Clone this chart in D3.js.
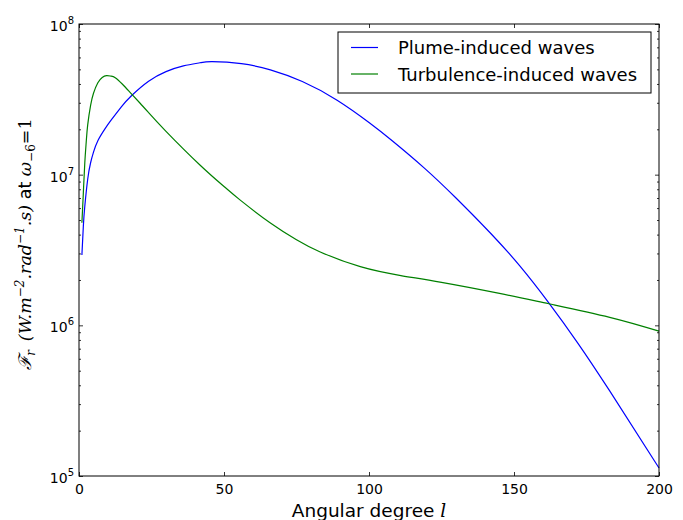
<!DOCTYPE html>
<html>
<head>
<meta charset="utf-8">
<script src="https://cdn.jsdelivr.net/npm/d3@7"></script>
<style>
  body { margin: 0; background: #fff; }
  text { font-family: "DejaVu Sans", sans-serif; fill: #000; }
  .math { font-family: "DejaVu Serif", serif; font-style: italic; }
  .rm { font-family: "DejaVu Serif", serif; }
</style>
</head>
<body>
<div id="here"></div>
<script>
// angular degree samples
const plumeL = [1, 1.5, 2, 3, 4, 5, 6.5, 9, 11, 14.6, 18, 24, 30, 36, 41.7, 46, 56, 66, 77, 89, 100, 108, 119, 130, 142, 152, 162, 172, 183, 200];
const plumeFlux = [2.93e6, 4.57e6, 6.17e6, 9.33e6, 1.20e7, 1.41e7, 1.68e7, 2.02e7, 2.29e7, 2.82e7, 3.33e7, 4.17e7, 4.83e7, 5.27e7, 5.53e7, 5.62e7, 5.45e7, 4.96e7, 4.15e7, 3.12e7, 2.22e7, 1.68e7, 1.11e7, 7.00e6, 4.07e6, 2.48e6, 1.41e6, 7.63e5, 3.67e5, 1.13e5];

const turbL = [1, 1.5, 2, 2.5, 3, 4, 5, 6.5, 8, 9.5, 11, 12.5, 15, 18, 21, 24, 30, 41.7, 50, 55.5, 66, 75, 83, 97, 111, 125, 145, 162, 183, 200];
const turbFlux = [4.79e6, 7.59e6, 1.20e7, 1.66e7, 2.14e7, 2.88e7, 3.47e7, 4.07e7, 4.42e7, 4.54e7, 4.51e7, 4.40e7, 3.98e7, 3.45e7, 2.99e7, 2.58e7, 1.94e7, 1.16e7, 8.35e6, 6.80e6, 4.78e6, 3.70e6, 3.08e6, 2.45e6, 2.14e6, 1.93e6, 1.63e6, 1.39e6, 1.13e6, 9.15e5];

const xTicks = [0, 50, 100, 150, 200];
const yTicks = [1e5, 1e6, 1e7, 1e8];
const seriesNames = ["Plume-induced waves", "Turbulence-induced waves"];
const seriesColors = ["#0000ff", "#008000"];

const width = 683;
const height = 520;
const margin = { top: 24, right: 24, bottom: 44, left: 79 };

const svg = d3.select("#here")
    .append("svg")
    .attr("width", width)
    .attr("height", height);

const xScale = d3.scaleLinear()
    .domain([0, 200])
    .range([margin.left, width - margin.right]);

const yScale = d3.scaleLog()
    .domain([1e5, 1e8])
    .range([height - margin.bottom, margin.top]);

// minor ticks 2..9 for every decade
const minorTicks = [];
yTicks.slice(0, -1).forEach(function(d){
    for (let k = 2; k <= 9; k++) minorTicks.push(d * k);
});

// axes, ticks pointing inwards like matplotlib classic
const bottomAxis = svg.append("g")
    .attr("transform", `translate(0, ${height - margin.bottom})`)
    .call(d3.axisBottom(xScale).tickValues(xTicks).tickSize(-4).tickPadding(8));

svg.append("g")
    .attr("transform", `translate(0, ${margin.top})`)
    .call(d3.axisTop(xScale).tickValues(xTicks).tickSize(-4).tickFormat(""));

svg.append("g")
    .attr("transform", `translate(${margin.left}, 0)`)
    .call(d3.axisLeft(yScale).tickValues(yTicks).tickSize(-4).tickFormat(""));

svg.append("g")
    .attr("transform", `translate(${width - margin.right}, 0)`)
    .call(d3.axisRight(yScale).tickValues(yTicks).tickSize(-4).tickFormat(""));

svg.append("g")
    .attr("transform", `translate(${margin.left}, 0)`)
    .call(d3.axisLeft(yScale).tickValues(minorTicks).tickSize(-2).tickFormat(""));

svg.append("g")
    .attr("transform", `translate(${width - margin.right}, 0)`)
    .call(d3.axisRight(yScale).tickValues(minorTicks).tickSize(-2).tickFormat(""));

svg.selectAll(".domain").remove();
svg.selectAll(".tick line").attr("stroke", "#000").attr("stroke-width", 0.8);

bottomAxis.selectAll(".tick text")
    .style("font-size", "14px")
    .style("font-family", "DejaVu Sans");

// y tick labels as 10 with superscript exponent
svg.append("g")
    .selectAll("text")
    .data(yTicks)
    .enter()
    .append("text")
    .attr("x", margin.left - 5)
    .attr("y", function(d){ return yScale(d) + 7; })
    .attr("text-anchor", "end")
    .style("font-size", "14px")
    .each(function(d){
        const t = d3.select(this);
        t.append("tspan").text("10");
        t.append("tspan")
            .attr("dy", -7)
            .style("font-size", "10px")
            .text(Math.round(Math.log10(d)));
    });

// curves
const line = d3.line()
    .x(function(d){ return xScale(d[0]); })
    .y(function(d){ return yScale(d[1]); })
    .curve(d3.curveNatural);

const plumeData = d3.zip(plumeL, plumeFlux);
const turbData = d3.zip(turbL, turbFlux);

svg.append("path")
    .datum(plumeData)
    .attr("fill", "none")
    .attr("stroke", seriesColors[0])
    .attr("stroke-width", 1.2)
    .attr("d", line);

svg.append("path")
    .datum(turbData)
    .attr("fill", "none")
    .attr("stroke", seriesColors[1])
    .attr("stroke-width", 1.2)
    .attr("d", line);

// frame
svg.append("rect")
    .attr("x", margin.left)
    .attr("y", margin.top)
    .attr("width", width - margin.left - margin.right)
    .attr("height", height - margin.top - margin.bottom)
    .attr("fill", "none")
    .attr("stroke", "#000")
    .attr("stroke-width", 1);

// legend
const legend = svg.append("g");
legend.append("rect")
    .attr("x", 338)
    .attr("y", 32)
    .attr("width", 313)
    .attr("height", 61)
    .attr("fill", "#fff")
    .attr("stroke", "#000")
    .attr("stroke-width", 1);

seriesNames.forEach(function(name, i){
    const yy = 47.5 + i * 26.5;
    legend.append("line")
        .attr("x1", 351).attr("x2", 378)
        .attr("y1", yy).attr("y2", yy)
        .attr("stroke", seriesColors[i])
        .attr("stroke-width", 1.2);
    legend.append("text")
        .attr("x", 398)
        .attr("y", yy + 6.5)
        .style("font-size", "18px")
        .text(name);
});

// axis labels
const xLabel = svg.append("text")
    .attr("x", xScale(100))
    .attr("y", 517)
    .attr("text-anchor", "middle")
    .style("font-size", "18.5px");
xLabel.append("tspan").text("Angular degree ");
xLabel.append("tspan").attr("class", "math").text("l");

const yLabel = svg.append("text")
    .attr("transform", "translate(31, 244) rotate(-90)")
    .attr("text-anchor", "middle")
    .style("font-size", "17.5px");
yLabel.append("tspan").attr("class", "math").text("\u2131");
yLabel.append("tspan").attr("class", "math").attr("dy", 4).style("font-size", "12px").text("r");
yLabel.append("tspan").attr("class", "math").attr("dy", -4).text("\u2002(W.m");
yLabel.append("tspan").attr("class", "math").attr("dy", -7).style("font-size", "12px").text("\u22122");
yLabel.append("tspan").attr("class", "math").attr("dy", 7).text(".rad");
yLabel.append("tspan").attr("class", "math").attr("dy", -7).style("font-size", "12px").text("\u22121");
yLabel.append("tspan").attr("class", "math").attr("dy", 7).text(".s)");
yLabel.append("tspan").text(" at ");
yLabel.append("tspan").attr("class", "math").text("\u03c9");
yLabel.append("tspan").attr("class", "rm").attr("dy", 4).style("font-size", "12px").text("\u22126");
yLabel.append("tspan").attr("class", "rm").attr("dy", -4).text("=1");
</script>
</body>
</html>
